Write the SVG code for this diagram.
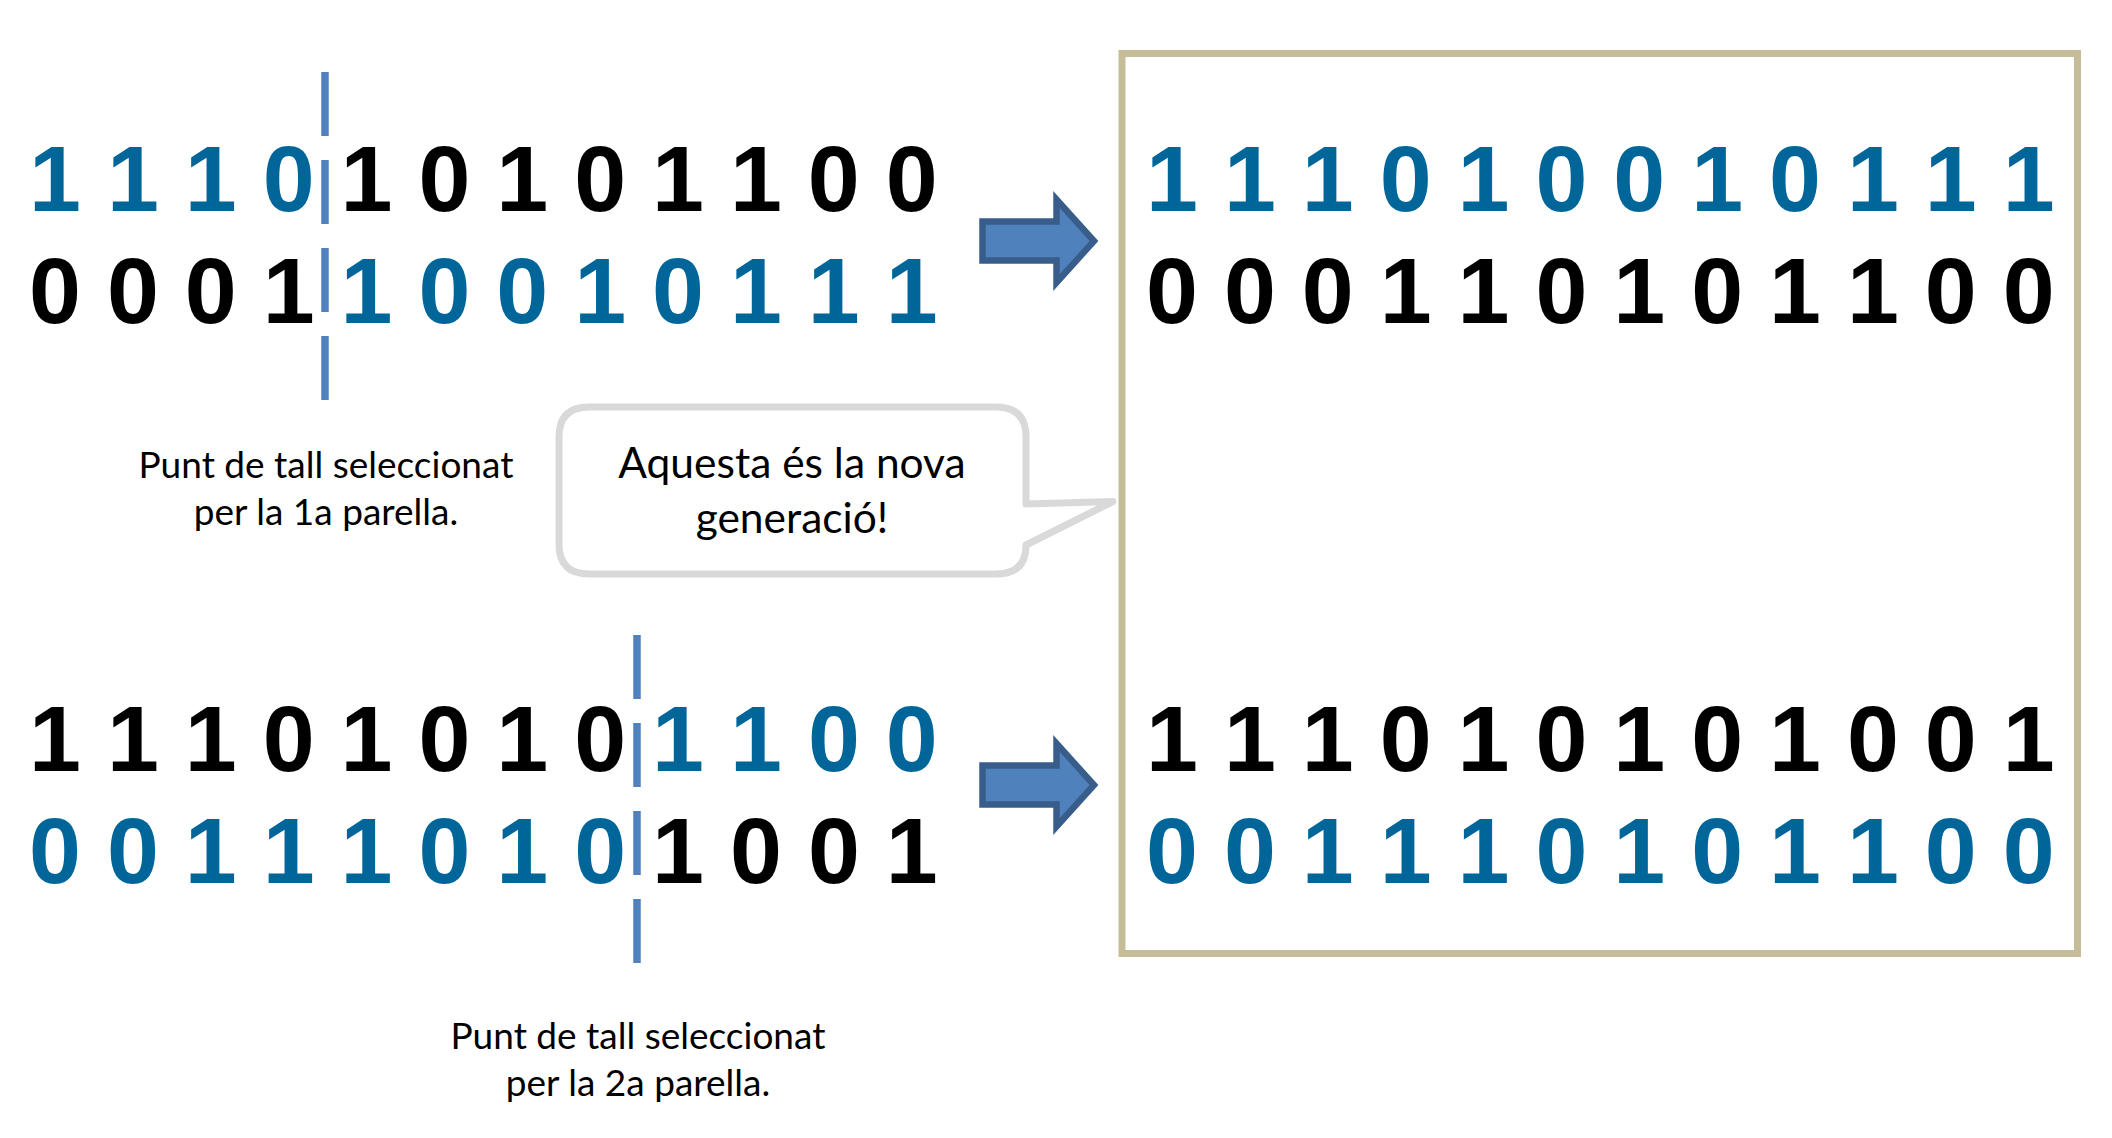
<svg xmlns="http://www.w3.org/2000/svg" width="2112" height="1138" viewBox="0 0 2112 1138">
<style>
.bits{font-family:"Liberation Sans",Arial,sans-serif;font-weight:bold;font-size:93.4px;}
.blue{fill:#00669A;}
.black{fill:#000000;}
.cut{stroke:#4F81BD;stroke-width:7.5;stroke-dasharray:64 24;fill:none;}
.label{font-family:Lato,"Open Sans",sans-serif;font-size:37px;fill:#000;text-anchor:middle;}
.callout-text{font-family:Lato,"Open Sans",sans-serif;font-size:42.5px;fill:#000;text-anchor:middle;}
.arrow{fill:#4F81BD;stroke:#385D8A;stroke-width:6.5;stroke-linejoin:miter;}
</style>
<rect width="2112" height="1138" fill="#ffffff"/>

<g id="result-box">
<rect x="1122" y="53.5" width="955.5" height="900" fill="#ffffff" stroke="#C4BD97" stroke-width="7"/>
</g>

<g id="parents-1">
<text class="bits" x="29" y="211"><tspan class="blue">1 1 1 0</tspan><tspan class="black"> 1 0 1 0 1 1 0 0</tspan></text>
<text class="bits" x="29" y="323"><tspan class="black">0 0 0 1</tspan><tspan class="blue"> 1 0 0 1 0 1 1 1</tspan></text>
</g>

<g id="parents-2">
<text class="bits" x="29" y="771"><tspan class="black">1 1 1 0 1 0 1 0</tspan><tspan class="blue"> 1 1 0 0</tspan></text>
<text class="bits" x="29" y="883"><tspan class="blue">0 0 1 1 1 0 1 0</tspan><tspan class="black"> 1 0 0 1</tspan></text>
</g>

<g id="children-1">
<text class="bits blue" x="1146" y="211">1 1 1 0 1 0 0 1 0 1 1 1</text>
<text class="bits black" x="1146" y="323">0 0 0 1 1 0 1 0 1 1 0 0</text>
</g>

<g id="children-2">
<text class="bits black" x="1146" y="771">1 1 1 0 1 0 1 0 1 0 0 1</text>
<text class="bits blue" x="1146" y="883">0 0 1 1 1 0 1 0 1 1 0 0</text>
</g>

<g id="cut-point-1">
<line class="cut" x1="325" y1="72" x2="325" y2="400"/>
<text class="label" x="326" y="478">Punt de tall seleccionat</text>
<text class="label" x="326" y="525">per la 1a parella.</text>
</g>

<g id="cut-point-2">
<line class="cut" x1="637" y1="635" x2="637" y2="963"/>
<text class="label" x="638" y="1049">Punt de tall seleccionat</text>
<text class="label" x="638" y="1096">per la 2a parella.</text>
</g>

<g id="callout">
<path d="M 589,407 H 996 Q 1026,407 1026,437 V 504 L 1113,501.5 L 1026,545 Q 1026,574 996,574 H 589 Q 559,574 559,544 V 437 Q 559,407 589,407 Z" fill="#ffffff" stroke="#D9D9D9" stroke-width="7" stroke-linejoin="round"/>
<text class="callout-text" x="792" y="478">Aquesta és la nova</text>
<text class="callout-text" x="792" y="533">generació!</text>
</g>

<g id="connectors">
<path class="arrow" d="M 982.5,221.5 H 1056.5 V 199.5 L 1094,241 L 1056.5,282.5 V 260.5 H 982.5 Z"/>
<path class="arrow" d="M 982.5,765.5 H 1056.5 V 743.5 L 1094,785 L 1056.5,826.5 V 804.5 H 982.5 Z"/>
</g>
</svg>
